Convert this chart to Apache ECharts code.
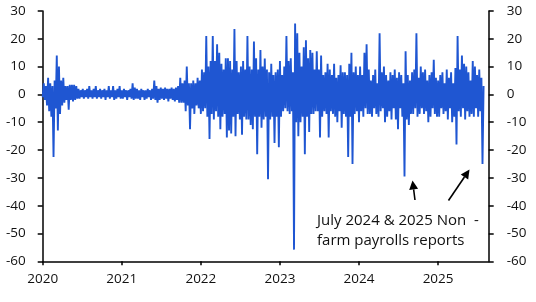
<!DOCTYPE html>
<html>
<head>
<meta charset="utf-8">
<script src="https://cdn.jsdelivr.net/npm/echarts@6/dist/echarts.min.js"></script>
<style>
html,body{margin:0;padding:0;background:#fff;}
#chart{width:536px;height:302px;}
</style>
</head>
<body>
<div id="chart"></div>
<script>
// Values at ~5-day steps per year (envelope of the daily series)
const v2020 = [-1,4,-2,3,-4,6,-6,4,-8,3,-22.5,5,-5,14,-13,10,-7,5,-4,6,-3,3,-2,3,-5.5,3.5,-2,3.5,-2.5,3.5,-2,3,-1.5,2,-1.5,1.5,-1,2,-1.5,1.5,-1,2,-1.5,3,-1,1.5,-1.5,2,-1,3,-1.5,1.5,-1,2,-1.5,1.5,-1,2,-2,1.5,-1,3,-1.5,1.5,-1,3,-2,1.5,-1.5,2,-1,3,-1.5];
const v2021 = [1.5,-1.5,2,-1,1.5,-2,1.5,-1,2,-1.5,4,-2,2.5,-1.5,2,-1.5,1.5,-2,2,-1,1.5,-2,1.5,-1.5,2,-1,1.5,-2,2,-1.5,5,-2,3,-3,2,-2,2.5,-1.5,2,-2,2.5,-1.5,2,-2.5,2,-1.5,2.5,-2,2,-2.5,2.5,-2,3,-3,6,-3,4,-3,5,-6,10,-4,4,-12.5,4,-5,5,-7,4,-4,6,-5,5];
const v2022 = [-7,9,-6,8,-5,21,-8,10,-16,12,-7,21,-9,12,-6,18,-8,15,-12.5,11,-8,9,-7,13,-15.5,13,-13,12,-14,9,-8,23.5,-15,12,-7,8,-9,10,-14.5,12,-8,9,-9,21,-9,10,-11,9,-12.5,19,-8,13,-21.5,9,-8,16,-12,10,-9,12.9,-8,9,-30.5,8,-9,11,-8,7,-17.5,8,-8,9,-19];
const v2023 = [12,-8,7,-6,10,-5,21,-6,12,-7,13,-6,8,-55.8,25.5,-10,22,-15,15,-10,10,-8,17,-21.5,19.5,-8,13,-13.5,16,-7,15,-7,9,-6,15.5,-6,9,-15.5,14,-8,7,-6,8,-7,11,-15.5,9,-6,7,-7,11,-8,6,-10,7,-6,10.5,-12,8,-7,8,-8,7,-22.5,11,-8,15,-25,8,-7,10,-6,7];
const v2024 = [-10,10,-6,7,-8,15,-5,18,-7,9,-7,5,-8,7,-5,9,-7,4,-8,22,-6,8,-5,10,-10,7,-8,5,-6,8,-9,7,-5,9,-9,6,-12.5,8,-5,7,-8,4,-29.5,15.5,-9,7,-11,5,-7,8,-7,9,-5,22,-8,6,-7,10,-5,8,-7,9,-6,5,-10,7,-8,8,-5,12.5,-7,6,-8];
const v2025 = [5,-8,7,-5,8,-7,4,-6,9,-9,6,-5,8,-10,4,-8,9.5,-18,21,-6,9,-8,14,-5,11,-9,10,-6,8,-8,5,-7,12,-8,10,-5,7,-8,9,-6,6,-25,3];
const yearTicks = [2020, 2021, 2022, 2023, 2024, 2025];
const annotationText = 'July 2024 & 2025 Non  -\nfarm payrolls reports';

const STEP_DAYS = 5;
function build(year, vals) {
  return vals.map((v, i) => [year + STEP_DAYS * i / 365, v]);
}
const seriesData = [].concat(
  build(2020, v2020), build(2021, v2021), build(2022, v2022),
  build(2023, v2023), build(2024, v2024), build(2025, v2025)
);

function arrow(x1, y1, x2, y2) {
  const dx = x2 - x1, dy = y2 - y1, len = Math.sqrt(dx * dx + dy * dy);
  const ux = dx / len, uy = dy / len, nx = -uy, ny = ux;
  const hl = 9, hw = 4.5;
  const bx = x2 - hl * ux, by = y2 - hl * uy;
  return [
    { type: 'polyline', shape: { points: [[x1, y1], [bx, by]] }, style: { stroke: '#000', lineWidth: 1.6, fill: null }, z: 100 },
    { type: 'polygon', shape: { points: [[x2, y2], [bx + hw * nx, by + hw * ny], [bx - hw * nx, by - hw * ny]] }, style: { fill: '#000' }, z: 100 }
  ];
}

const FONT = 'Open Sans';
const axisLabelStyle = { color: '#111', fontSize: 13.5, fontFamily: FONT };
const axisLineStyle = { show: true, onZero: false, lineStyle: { color: '#000', width: 1.5 } };

const chart = echarts.init(document.getElementById('chart'), null, { renderer: 'canvas' });
chart.setOption({
  animation: false,
  backgroundColor: '#fff',
  grid: { left: 42.7, right: 47.3, top: 11, bottom: 40.7, containLabel: false },
  xAxis: {
    type: 'value', min: 2020, max: 2025.64, interval: 1,
    axisLine: axisLineStyle,
    axisTick: { show: true, length: 4, lineStyle: { color: '#000', width: 1.5 }, customValues: yearTicks },
    axisLabel: Object.assign({ margin: 11, customValues: yearTicks, formatter: v => String(Math.round(v)) }, axisLabelStyle),
    splitLine: { show: false }
  },
  yAxis: [
    {
      type: 'value', position: 'left', min: -60, max: 30, interval: 10,
      axisLine: axisLineStyle,
      axisTick: { show: true, length: 5, lineStyle: { color: '#000', width: 1.5 } },
      axisLabel: Object.assign({ margin: 17 }, axisLabelStyle),
      splitLine: { show: false }
    },
    {
      type: 'value', position: 'right', min: -60, max: 30, interval: 10,
      axisLine: axisLineStyle,
      axisTick: { show: true, length: 5, lineStyle: { color: '#000', width: 1.5 } },
      axisLabel: Object.assign({ margin: 18 }, axisLabelStyle),
      splitLine: { show: false }
    }
  ],
  series: [{
    type: 'line', data: seriesData, yAxisIndex: 0,
    showSymbol: false, symbol: 'none', sampling: null,
    lineStyle: { color: '#1f56d2', width: 1.9, join: 'bevel' },
    z: 2
  }],
  graphic: [
    { type: 'text', left: 317, top: 211, z: 100,
      style: { text: annotationText, font: '15px "Open Sans"', fill: '#111', lineHeight: 20 } }
  ].concat(arrow(415, 200, 412.5, 180.5), arrow(448.5, 200.5, 469.5, 169.5))
});
</script>
</body>
</html>
